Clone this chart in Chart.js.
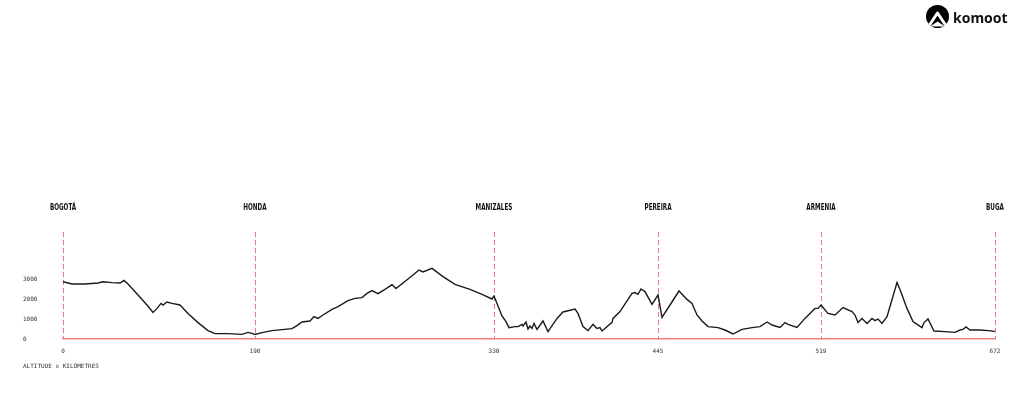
<!DOCTYPE html>
<html>
<head>
<meta charset="utf-8">
<script src="https://cdn.jsdelivr.net/npm/chart.js@4/dist/chart.umd.min.js"></script>
<style>
  html, body { margin: 0; padding: 0; background: #fff; }
  #wrap { position: relative; width: 1024px; height: 399px; }
</style>
</head>
<body>
<div id="wrap"><canvas id="profile"></canvas></div>
<script>
// stops along the route
const cities = ['BOGOTÁ', 'HONDA', 'MANIZALES', 'PEREIRA', 'ARMENIA', 'BUGA'];
const cityKm = ['0', '190', '330', '445', '519', '672'];
// position of each stop on the profile axis
const cityPos = [0, 192, 431, 595, 758, 932];

const altTicks = [0, 1000, 2000, 3000];

// elevation profile (position on profile axis, altitude in m)
const routePos = [
  0, 9, 22, 35, 40, 49, 57, 61, 65, 75, 84, 90, 94, 98, 100, 104, 109, 117, 125, 135,
  145, 152, 165, 179, 185, 189, 192, 199, 209, 229, 234, 239, 247, 251, 255, 260, 269, 275, 285, 292,
  299, 304, 309, 315, 322, 329, 333, 345, 356, 360, 369, 380, 392, 407, 419, 429, 431, 434, 439, 443,
  446, 452, 455, 459, 460, 463, 465, 467, 469, 471, 474, 480, 485, 494, 500, 512, 515, 520, 525, 530,
  534, 537, 539, 549, 550, 557, 569, 572, 575, 578, 582, 589, 595, 599, 607, 616, 624, 629, 634, 639,
  645, 655, 662, 670, 679, 689, 697, 704, 709, 717, 722, 725, 734, 742, 752, 755, 758, 765, 772, 780,
  789, 792, 795, 799, 804, 809, 812, 815, 819, 824, 834, 837, 844, 850, 859, 861, 865, 871, 882, 892,
  897, 900, 903, 907, 917, 925, 932
];
const altitude = [
  2860, 2750, 2750, 2800, 2860, 2820, 2800, 2930, 2750, 2200, 1700, 1330, 1530, 1780, 1700, 1850, 1780, 1700, 1280, 820,
  420, 270, 270, 230, 330, 280, 230, 320, 420, 520, 670, 850, 900, 1120, 1030, 1200, 1480, 1620, 1920, 2030,
  2070, 2280, 2420, 2270, 2480, 2720, 2520, 3000, 3450, 3350, 3530, 3120, 2730, 2480, 2230, 2000, 2150, 1780, 1150, 870,
  570, 620, 620, 730, 650, 850, 500, 650, 530, 780, 480, 900, 370, 1030, 1350, 1500, 1280, 620, 420, 730,
  530, 570, 400, 830, 1030, 1370, 2280, 2320, 2230, 2500, 2370, 1730, 2200, 1080, 1700, 2400, 1980, 1780, 1200, 900,
  620, 570, 450, 250, 480, 570, 620, 850, 700, 580, 820, 730, 580, 1030, 1530, 1530, 1700, 1280, 1200, 1570,
  1370, 1200, 820, 1020, 780, 1030, 920, 1000, 780, 1120, 2820, 2480, 1530, 870, 570, 820, 1000, 400, 370, 330,
  450, 480, 600, 450, 450, 420, 380
];

const labelsPlugin = {
  id: 'labels',
  afterDraw(chart) {
    const ctx = chart.ctx;
    const x = chart.scales.x;

    // city names above the markers
    ctx.save();
    ctx.fillStyle = '#111';
    ctx.textAlign = 'center';
    ctx.textBaseline = 'alphabetic';
    ctx.font = 'bold 9.5px "Liberation Sans Narrow", "DejaVu Sans Condensed", sans-serif';
    cities.forEach((name, i) => {
      const px = x.getPixelForValue(cityPos[i]);
      ctx.save();
      ctx.translate(px, 210);
      ctx.scale(0.66, 1);
      ctx.fillText(name, 0, 0);
      ctx.restore();
    });
    ctx.restore();

    // axis caption
    ctx.save();
    ctx.fillStyle = '#333';
    ctx.font = '6px "DejaVu Sans Mono", monospace';
    ctx.textAlign = 'left';
    ctx.textBaseline = 'middle';
    ctx.fillText('ALTITUDE x KILOMETRES', 23, 366);
    ctx.restore();

    // komoot logo
    ctx.save();
    ctx.fillStyle = '#000';
    ctx.beginPath();
    ctx.arc(937.5, 16.5, 11.5, 0, Math.PI * 2);
    ctx.fill();
    ctx.strokeStyle = '#fff';
    ctx.lineWidth = 3;
    ctx.lineJoin = 'round';
    ctx.beginPath();
    ctx.moveTo(929.5, 25);
    ctx.lineTo(937.5, 13);
    ctx.lineTo(945.5, 25);
    ctx.stroke();
    ctx.fillStyle = '#fff';
    ctx.beginPath();
    ctx.moveTo(930, 26.5);
    ctx.lineTo(937.5, 21.5);
    ctx.lineTo(945, 26.5);
    ctx.closePath();
    ctx.fill();
    ctx.fillStyle = '#111';
    ctx.font = 'bold 14px "Noto Sans", sans-serif';
    ctx.textAlign = 'left';
    ctx.textBaseline = 'alphabetic';
    ctx.fillText('komoot', 953, 22.5);
    ctx.restore();
  }
};

new Chart(document.getElementById('profile'), {
  type: 'line',
  data: {
    datasets: [{
      data: routePos.map((p, i) => ({ x: p, y: altitude[i] })),
      borderColor: '#1a1a1a',
      borderWidth: 1.4,
      pointRadius: 0,
      tension: 0,
      fill: false
    }]
  },
  options: {
    responsive: true,
    maintainAspectRatio: false,
    animation: false,
    layout: { padding: { left: 23, right: 29, top: 232, bottom: 0 } },
    plugins: { legend: { display: false }, tooltip: { enabled: false } },
    scales: {
      x: {
        type: 'linear',
        min: 0,
        max: 932,
        afterFit(scale) { scale.height = 60; },
        afterBuildTicks(scale) { scale.ticks = cityPos.map(v => ({ value: v })); },
        grid: { color: 'rgba(230, 90, 100, 0.8)', lineWidth: 1, drawTicks: false },
        border: { display: true, color: '#f08080', width: 1.5, dash: [5, 3] },
        ticks: {
          autoSkip: false,
          maxRotation: 0,
          padding: 9,
          color: '#333',
          font: { family: '"DejaVu Sans Mono", monospace', size: 6 },
          callback: (v, i) => cityKm[i]
        }
      },
      y: {
        min: 0,
        max: 5350,
        afterFit(scale) { scale.width = 40; },
        afterBuildTicks(scale) { scale.ticks = altTicks.map(v => ({ value: v })); },
        grid: { display: false },
        border: { display: false },
        ticks: {
          crossAlign: 'far',
          color: '#333',
          font: { family: '"DejaVu Sans Mono", monospace', size: 6 },
          callback: v => String(v)
        }
      }
    }
  },
  plugins: [labelsPlugin]
});
</script>
</body>
</html>
